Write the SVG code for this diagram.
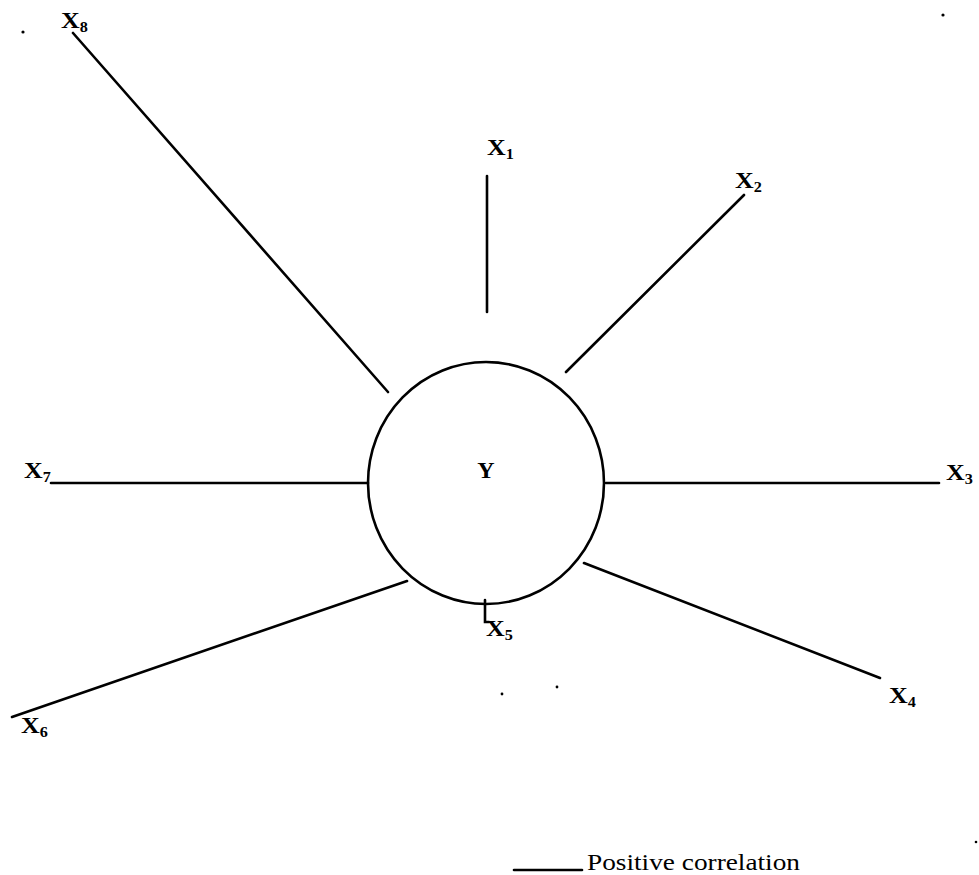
<svg xmlns="http://www.w3.org/2000/svg" width="979" height="875" viewBox="0 0 979 875">
<style>
.ln{stroke:#000;stroke-width:2.6;fill:none;stroke-linecap:round}
.lb{font-family:"Liberation Serif","Times New Roman",serif;font-size:24px;fill:#000;font-weight:bold}
.sb{font-size:15px}
.lg{font-family:"Liberation Serif","Times New Roman",serif;font-size:23px;fill:#000;font-weight:normal}
.dot{fill:#000}
</style>
<rect width="979" height="875" fill="#fff"/>
<g id="connectors">
<line class="ln" x1="73" y1="33" x2="388" y2="392"/>
<line class="ln" x1="487" y1="176" x2="487" y2="312"/>
<line class="ln" x1="744" y1="195" x2="566" y2="372"/>
<line class="ln" x1="606" y1="483" x2="939" y2="483"/>
<line class="ln" x1="584" y1="563" x2="880" y2="678"/>
<polyline class="ln" points="485,600 485,622 489,622"/>
<line class="ln" x1="407" y1="581" x2="12" y2="717"/>
<line class="ln" x1="51" y1="483" x2="368" y2="483"/>
</g>
<g id="node-Y">
<ellipse class="ln" cx="486" cy="483" rx="118" ry="121"/>
<text class="lb" x="486" y="478" text-anchor="middle" font-size="24">Y</text>
</g>
<g id="node-X8"><text class="lb" transform="translate(61,28) scale(1.08,1)">X<tspan class="sb" dy="4">8</tspan></text></g>
<g id="node-X1"><text class="lb" transform="translate(487,155) scale(1.08,1)">X<tspan class="sb" dy="4">1</tspan></text></g>
<g id="node-X2"><text class="lb" transform="translate(735,188) scale(1.08,1)">X<tspan class="sb" dy="4">2</tspan></text></g>
<g id="node-X3"><text class="lb" transform="translate(946,480) scale(1.08,1)">X<tspan class="sb" dy="4">3</tspan></text></g>
<g id="node-X4"><text class="lb" transform="translate(889,703) scale(1.08,1)">X<tspan class="sb" dy="4">4</tspan></text></g>
<g id="node-X5"><text class="lb" transform="translate(486,636) scale(1.08,1)">X<tspan class="sb" dy="4">5</tspan></text></g>
<g id="node-X6"><text class="lb" transform="translate(21,733) scale(1.08,1)">X<tspan class="sb" dy="4">6</tspan></text></g>
<g id="node-X7"><text class="lb" transform="translate(24,478) scale(1.08,1)">X<tspan class="sb" dy="4">7</tspan></text></g>
<g id="legend">
<line class="ln" x1="514" y1="870" x2="582" y2="870" stroke-linecap="butt"/>
<text class="lg" x="587" y="870" textLength="213" lengthAdjust="spacingAndGlyphs">Positive correlation</text>
</g>
<g id="specks">
<circle class="dot" cx="23" cy="32" r="1.6"/>
<circle class="dot" cx="943" cy="15" r="1.6"/>
<circle class="dot" cx="502" cy="694" r="1.4"/>
<circle class="dot" cx="557" cy="687" r="1.4"/>
<circle class="dot" cx="976" cy="842" r="1.3"/>
</g>
</svg>
